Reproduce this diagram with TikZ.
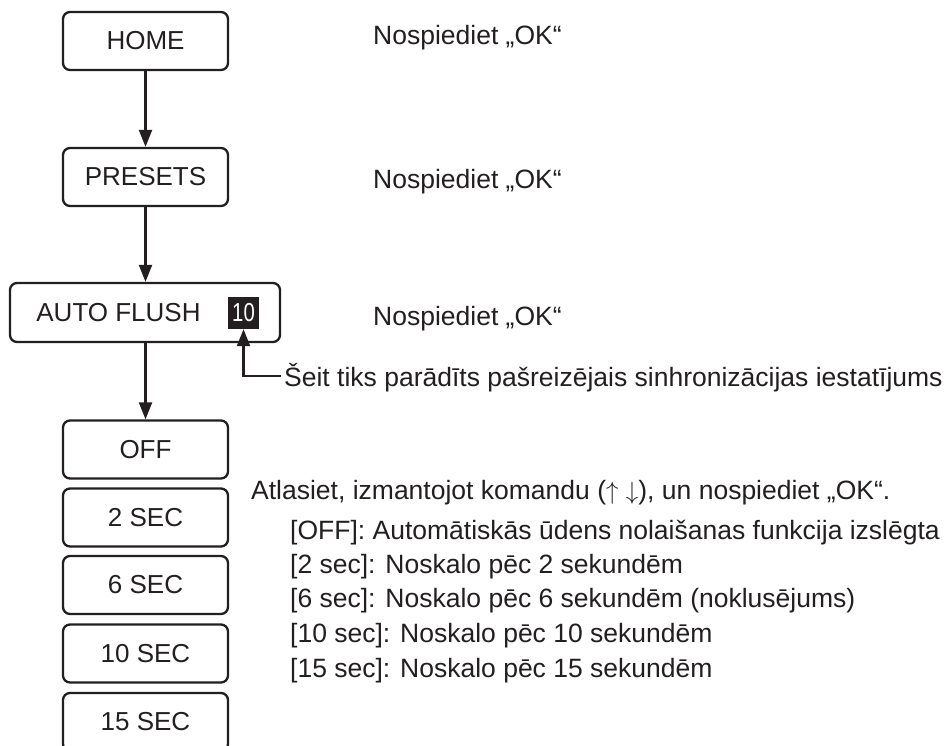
\documentclass[tikz,border=0pt]{standalone}
\usepackage{fontspec}
\setmainfont{Liberation Sans}
\usetikzlibrary{arrows.meta}
\definecolor{ink}{RGB}{35,31,32}
\tikzset{
  menubox/.style={draw=ink, line width=2.3pt, rounded corners=7pt, inner sep=0pt,
    minimum width=165pt, minimum height=58pt, text=ink,
    font=\fontsize{26}{30}\selectfont},
  flow/.style={draw=ink, line width=2.2pt, -{Triangle[length=17pt,width=13pt]}},
  note/.style={anchor=base west, inner sep=0pt, text=ink,
    font=\fontsize{26.5}{30}\selectfont}
}
\begin{document}
\begin{tikzpicture}[x=1pt,y=-1pt]
\clip (0,0) rectangle (952,746);
\fill[white] (0,0) rectangle (952,746);
% boxes
\node[menubox] (home) at (145.5,41) {HOME};
\node[menubox] (presets) at (145.5,177) {PRESETS};
\node[menubox, minimum width=270pt, minimum height=59pt] (auto) at (145,312.5) {};
\node[anchor=center, inner sep=0pt, text=ink, font=\fontsize{26}{30}\selectfont] (autotxt) at (118.5,313) {AUTO FLUSH};
\node[fill=ink, inner sep=0pt, minimum width=31pt, minimum height=32pt, text=white,
  font=\fontsize{26}{30}\selectfont] (ten) at (243.5,313) {\scalebox{0.78}[1]{10}};
\node[menubox] (off) at (145.5,449.5) {OFF};
\node[menubox] (s2) at (145.5,517.5) {2 SEC};
\node[menubox] (s6) at (145.5,585) {6 SEC};
\node[menubox] (s10) at (145.5,653.5) {10 SEC};
\node[menubox] (s15) at (145.5,722) {15 SEC};
% arrows
\draw[flow] (home.south) -- (presets.north);
\draw[flow] (presets.south) -- (auto.north -| presets.south);
\draw[flow] (auto.south -| off.north) -- (off.north);
% texts
\node[note] (ok1) at (373,45) {Nospiediet „OK“};
\node[note] (ok2) at (373,188) {Nospiediet „OK“};
\node[note] (ok3) at (373,325) {Nospiediet „OK“};
\node[note] (seit) at (284,386) {Šeit tiks parādīts pašreizējais sinhronizācijas iestatījums};
\coordinate (seitend) at (281,376);
\draw[flow] (seitend) -| (ten.south);
\node[note] (sel) at (251,499) {Atlasiet, izmantojot komandu ($\uparrow$ $\downarrow$), un nospiediet „OK“.};
\node[note] (l1) at (290,539) {[OFF]: Automātiskās ūdens nolaišanas funkcija izslēgta};
\node[note] (l2) at (290,573) {[2 sec]: Noskalo pēc 2 sekundēm};
\node[note] (l3) at (290,607) {[6 sec]: Noskalo pēc 6 sekundēm (noklusējums)};
\node[note] (l4) at (290,642) {[10 sec]: Noskalo pēc 10 sekundēm};
\node[note] (l5) at (290,677) {[15 sec]: Noskalo pēc 15 sekundēm};
\end{tikzpicture}
\end{document}
